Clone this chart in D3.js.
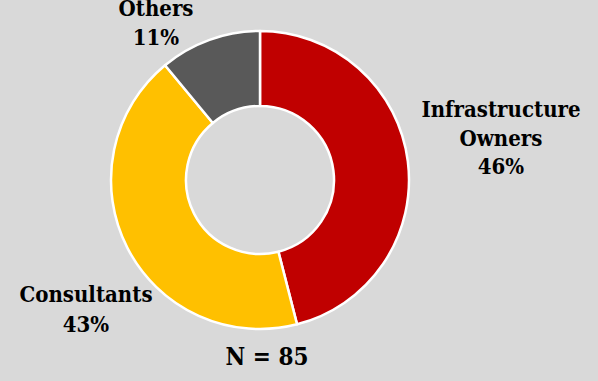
<!DOCTYPE html>
<html><head><meta charset="utf-8">
<script src="https://cdn.jsdelivr.net/npm/d3@7"></script>
<style>html,body{margin:0;padding:0;background:#d9d9d9;}svg{display:block;}</style>
</head><body>
<svg id="chart" width="598" height="381"></svg>
<script>
const categories = ["Infrastructure Owners", "Consultants", "Others"];
const values = [46, 43, 11];
const colors = ["#c00000", "#ffc000", "#595959"];
const labelLines = [["Infrastructure", "Owners", "46%"], ["Consultants", "43%"], ["Others", "11%"]];
const totalLabel = "N = 85";

const svg = d3.select("#chart");
svg.append("rect").attr("width", 598).attr("height", 381).attr("fill", "#d9d9d9");
const cx = 260, cy = 180, rOuter = 149, rInner = 74;
const pie = d3.pie().sort(null).value(d => d)(values);
const arc = d3.arc().innerRadius(rInner).outerRadius(rOuter);
const g = svg.append("g").attr("transform", `translate(${cx},${cy})`);
g.selectAll("path").data(pie).join("path")
  .attr("d", arc).attr("fill", (d, i) => colors[i])
  .attr("stroke", "#ffffff").attr("stroke-width", 2.5).attr("stroke-linejoin", "round");

const labelPos = [{x: 501, y: 117}, {x: 86, y: 302}, {x: 156, y: 16}];
const font = "'DejaVu Serif Condensed', 'DejaVu Serif'";
const fs = 22;
labelLines.forEach((lines, i) => {
  const t = svg.append("text").attr("text-anchor", "middle")
    .attr("font-family", font).attr("font-weight", "bold").attr("font-size", fs).attr("fill", "#000");
  lines.forEach((l, j) => {
    t.append("tspan").attr("x", labelPos[i].x).attr("y", labelPos[i].y + j * (i === 1 ? 29.5 : 28.5)).text(l);
  });
});
svg.append("text").attr("x", 267).attr("y", 365).attr("text-anchor", "middle")
  .attr("font-family", font).attr("font-weight", "bold").attr("font-size", 24).attr("fill", "#000")
  .text(totalLabel);
</script>
</body></html>
